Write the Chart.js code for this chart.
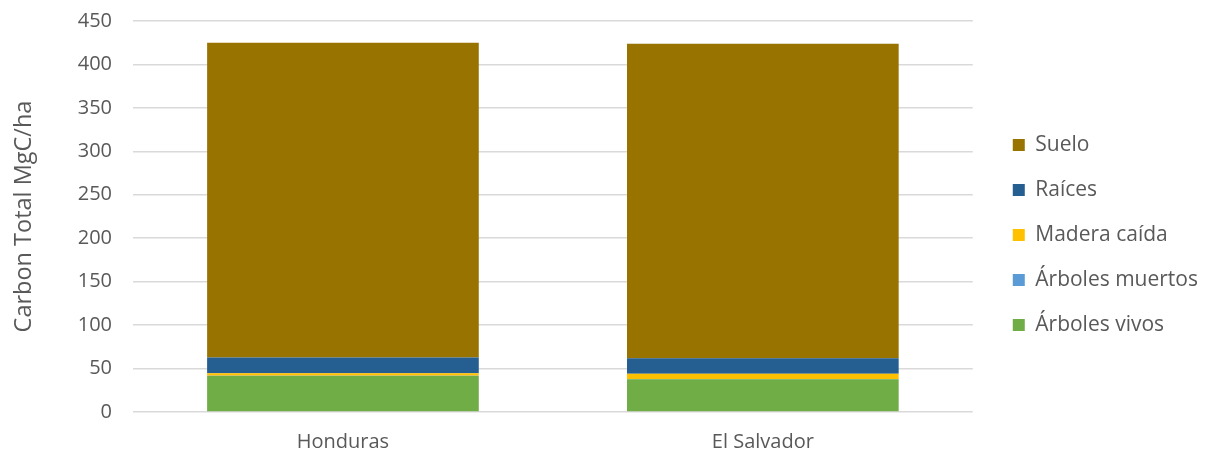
<!DOCTYPE html>
<html>

<head>
    <title>Carbono total por país</title>
    <script src="https://cdn.jsdelivr.net/npm/chart.js@4.4.1/dist/chart.umd.min.js"></script>
    <style>
        html, body {
            margin: 0;
            padding: 0;
            background-color: #fff;
        }

        .chart-container {
            width: 1205px;
            height: 457px;
        }
    </style>
</head>

<body>
    <div class="chart-container">
        <canvas id="carbon-chart"></canvas>
    </div>

    <script>
        // Datos: MgC/ha por componente
        const paises = ['Honduras', 'El Salvador'];
        const arbolesVivos = [41.5, 37.7];
        const arbolesMuertos = [0.3, 0.3];
        const maderaCaida = [2.8, 6.1];
        const raices = [18.0, 17.8];
        const suelo = [362.3, 361.9];

        const yMin = 0;
        const yMax = 450;
        const yStep = 50;

        const textColor = '#595959';
        const fontFamily = '"Open Sans", "Noto Sans", sans-serif';

        // Mueve la leyenda un poco a la derecha del área de la gráfica
        const moverLeyenda = {
            id: 'moverLeyenda',
            afterLayout(chart) {
                const legend = chart.legend;
                const dx = chart.chartArea.right + 16 - legend.left;
                legend.left += dx;
                legend.right += dx;
                legend.top -= 4;
                legend.bottom -= 4;
            }
        };

        const ctx = document.getElementById('carbon-chart').getContext('2d');

        new Chart(ctx, {
            type: 'bar',
            data: {
                labels: paises,
                datasets: [
                    { label: 'Árboles vivos', data: arbolesVivos, backgroundColor: '#70AD47' },
                    { label: 'Árboles muertos', data: arbolesMuertos, backgroundColor: '#5B9BD5' },
                    { label: 'Madera caída', data: maderaCaida, backgroundColor: '#FFC000' },
                    { label: 'Raíces', data: raices, backgroundColor: '#255E91' },
                    { label: 'Suelo', data: suelo, backgroundColor: '#997300' }
                ]
            },
            options: {
                responsive: true,
                maintainAspectRatio: false,
                animation: false,
                layout: {
                    padding: { top: 21, right: 13, left: 0, bottom: 0 }
                },
                datasets: {
                    bar: {
                        categoryPercentage: 1,
                        barPercentage: 0.647,
                        borderWidth: 0
                    }
                },
                scales: {
                    x: {
                        stacked: true,
                        grid: { display: false },
                        border: { display: false },
                        ticks: {
                            color: textColor,
                            padding: 10,
                            font: { family: fontFamily, size: 20 }
                        },
                        afterFit(scale) {
                            scale.height = 45;
                        }
                    },
                    y: {
                        stacked: true,
                        min: yMin,
                        max: yMax,
                        border: { display: false },
                        grid: {
                            color: '#d9d9d9',
                            lineWidth: 1.5,
                            drawTicks: false
                        },
                        ticks: {
                            stepSize: yStep,
                            color: textColor,
                            padding: 21,
                            font: { family: fontFamily, size: 20 }
                        },
                        title: {
                            display: true,
                            text: 'Carbon Total MgC/ha',
                            color: textColor,
                            padding: { top: 10, bottom: 0 },
                            font: { family: fontFamily, size: 23.5 }
                        },
                        afterFit(scale) {
                            scale.width = 133;
                            // sin margen extra por las etiquetas de los extremos
                            scale.paddingTop = 0;
                            scale.paddingBottom = 0;
                        }
                    }
                },
                plugins: {
                    legend: {
                        position: 'right',
                        reverse: true,
                        labels: {
                            color: textColor,
                            boxWidth: 12,
                            boxHeight: 12,
                            padding: 24,
                            font: { family: fontFamily, size: 21 }
                        }
                    },
                    title: { display: false },
                    tooltip: { enabled: false }
                }
            },
            plugins: [moverLeyenda]
        });
    </script>
</body>

</html>
